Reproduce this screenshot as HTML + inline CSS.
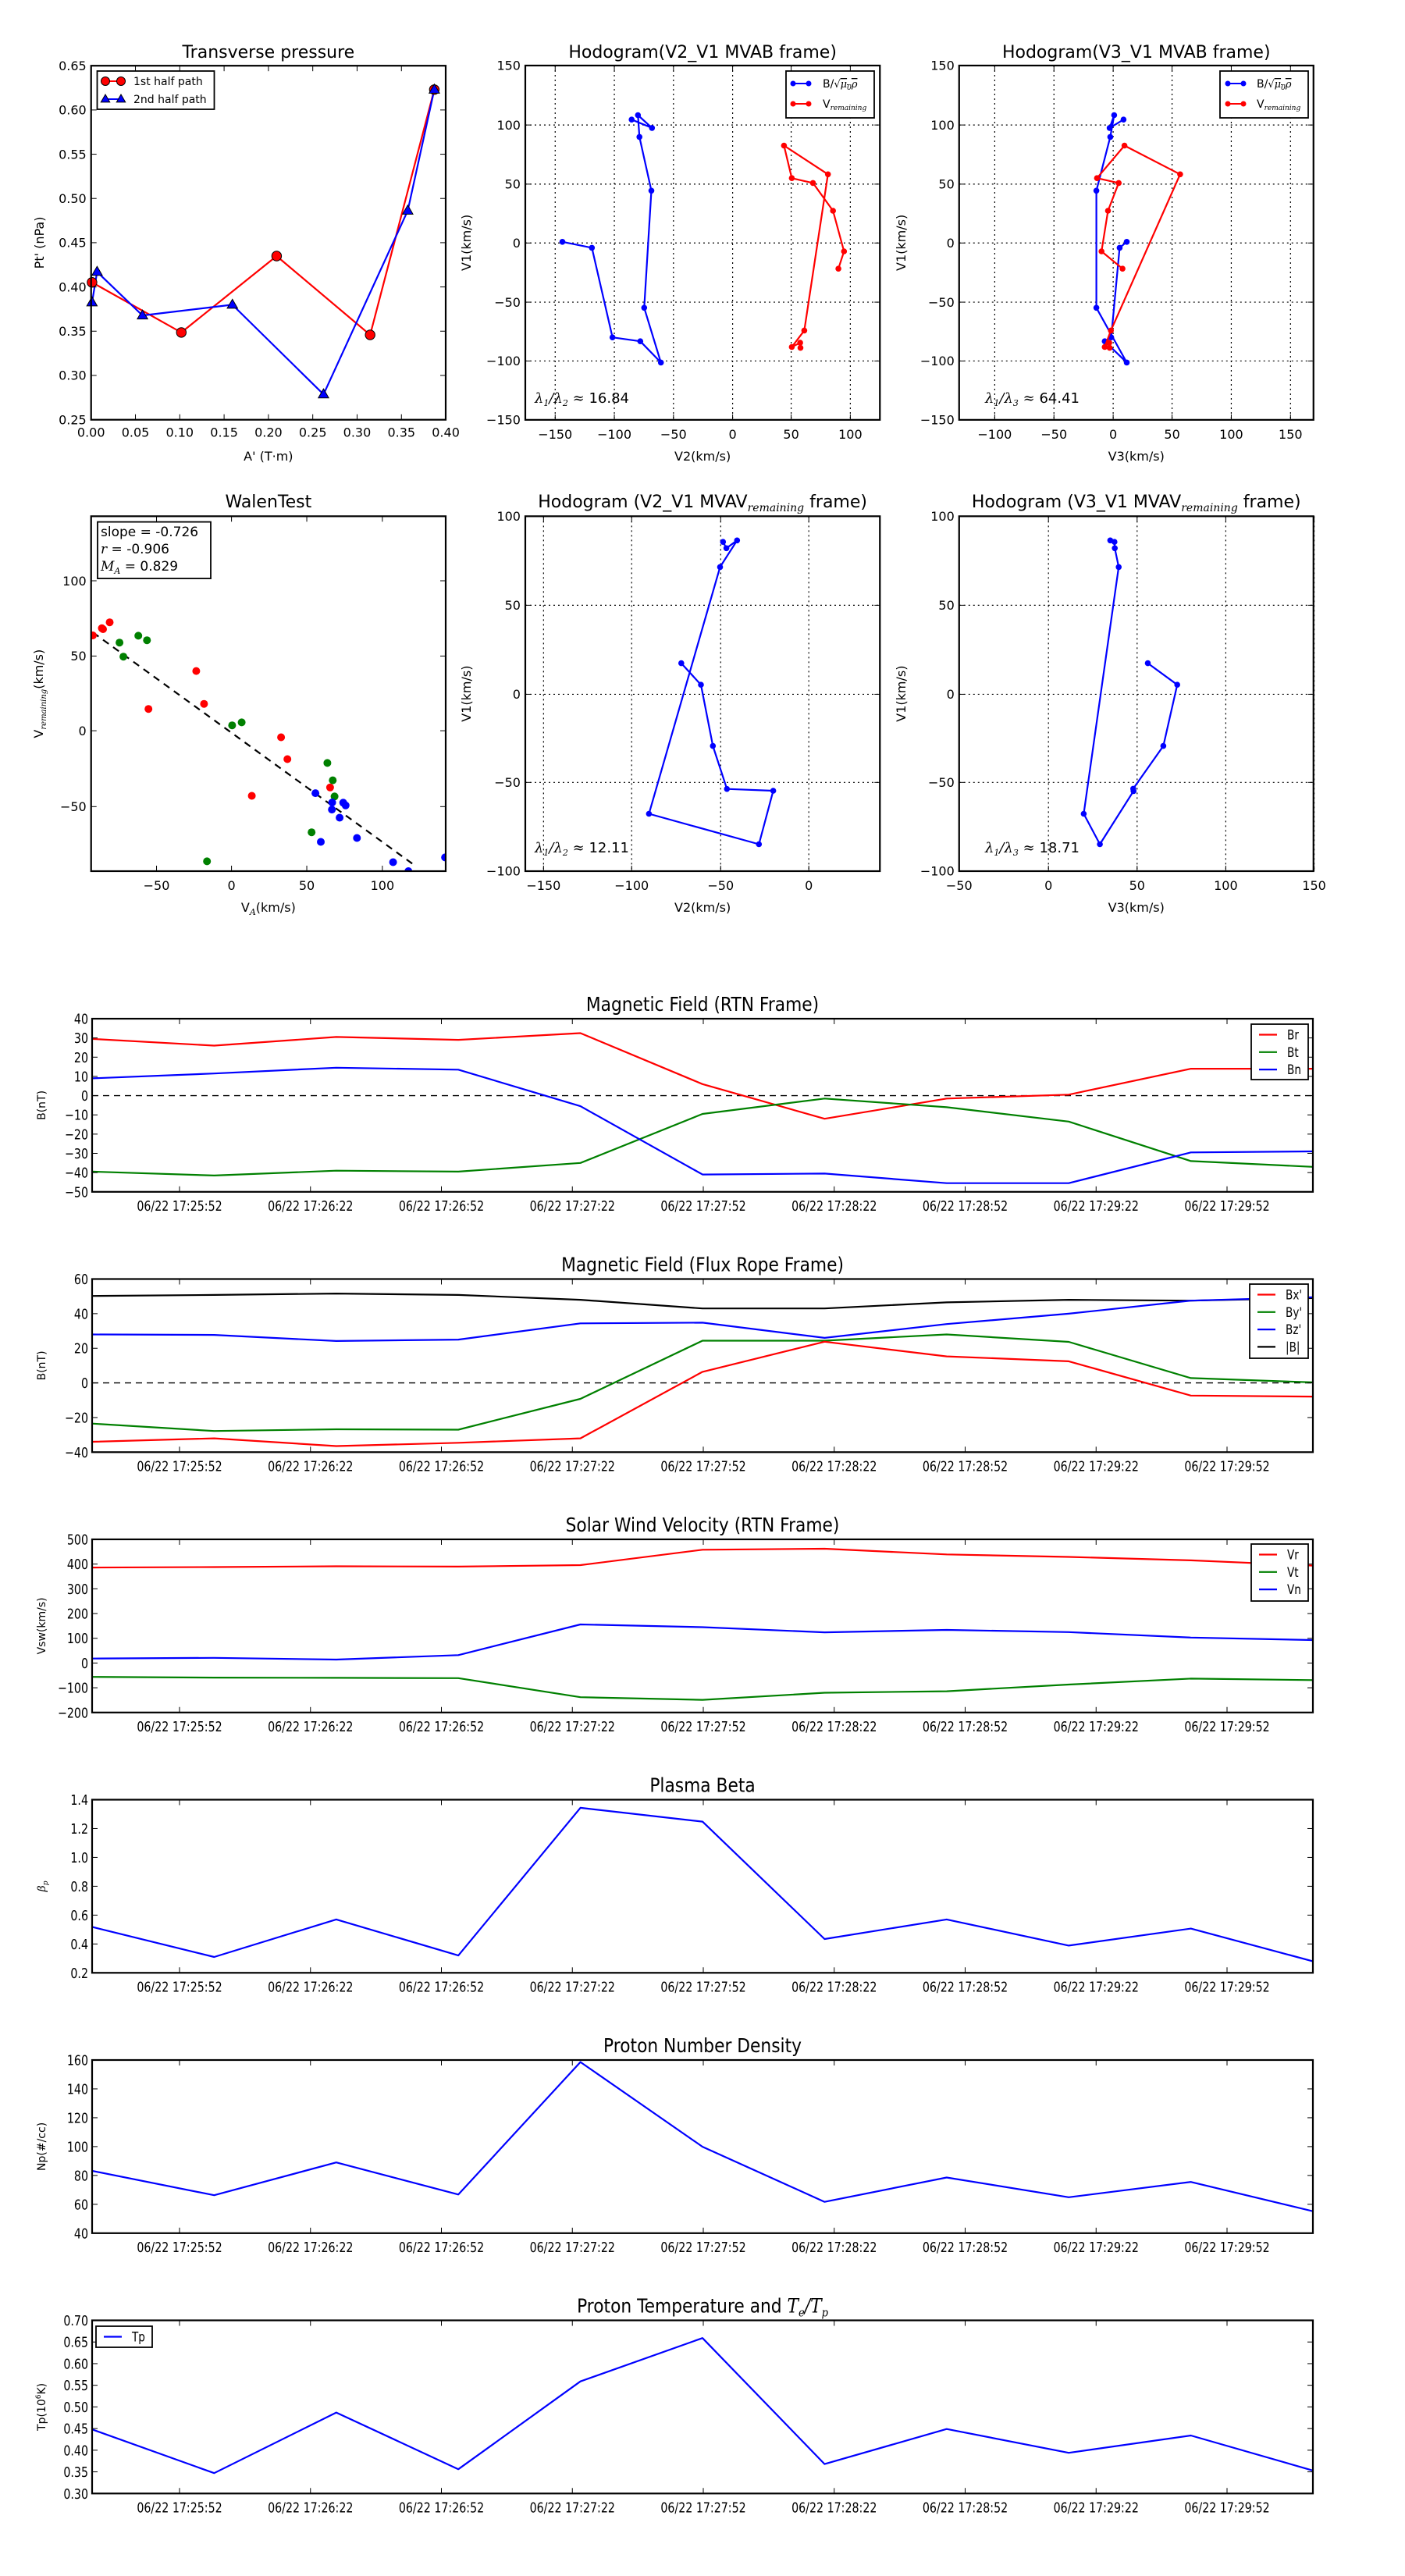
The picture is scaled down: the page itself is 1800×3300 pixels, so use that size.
<!DOCTYPE html>
<html><head><meta charset="utf-8">
<style>
html,body{margin:0;padding:0;background:#fff;}
svg{display:block;}
text{font-family:"DejaVu Sans","Liberation Sans",sans-serif;fill:#000;}
</style></head>
<body>
<svg id="s" xmlns="http://www.w3.org/2000/svg" width="1800" height="3300" viewBox="0 0 1800 3300"></svg>
<script>
var out='';var cid=0;
function L(x1,y1,x2,y2,c,w,da){out+='<line x1="'+x1+'" y1="'+y1+'" x2="'+x2+'" y2="'+y2+'" stroke="'+(c||'#000')+'" stroke-width="'+(w||1)+'"'+(da?' stroke-dasharray="'+da+'"':'')+'/>';}
function T(x,y,t,fs,anchor,extra){out+='<text x="'+x+'" y="'+y+'" font-size="'+fs+'" text-anchor="'+(anchor||'start')+'" '+(extra||'')+'>'+t+'</text>';}
function TS(x,y,t,fs,anchor,sx){out+='<text transform="translate('+x+' '+y+') scale('+sx+' 1)" x="0" y="0" font-size="'+fs+'" text-anchor="'+(anchor||'start')+'">'+t+'</text>';}
function PL(p,c,w,da){out+='<polyline fill="none" stroke="'+c+'" stroke-width="'+w+'" stroke-linejoin="round"'+(da?' stroke-dasharray="'+da+'"':'')+' points="'+p.map(function(q){return q[0].toFixed(1)+','+q[1].toFixed(1)}).join(' ')+'"/>';}
function C(x,y,r,f,s,sw){out+='<circle cx="'+x.toFixed(1)+'" cy="'+y.toFixed(1)+'" r="'+r+'" fill="'+f+'"'+(s?' stroke="'+s+'" stroke-width="'+(sw||1)+'"':'')+'/>';}
function TRI(x,y,r,f){out+='<polygon points="'+x+','+(y-r)+' '+(x-r*0.95)+','+(y+r*0.65)+' '+(x+r*0.95)+','+(y+r*0.65)+'" fill="'+f+'" stroke="#000" stroke-width="1"/>';}
function clipStart(x0,y0,x1,y1){cid++;out+='<clipPath id="c'+cid+'"><rect x="'+x0+'" y="'+y0+'" width="'+(x1-x0)+'" height="'+(y1-y0)+'"/></clipPath><g clip-path="url(#c'+cid+')">';}
function clipEnd(){out+='</g>';}
function Z(ox,oy,sx,sy){return function(p){return [ox+p[0]/sx,oy+p[1]/sy];};}
function frame(x0,y0,x1,y1,xt,yt,fs,xoff,grid,sx){
  sx=sx||1;
  xt.forEach(function(t){L(t[0],y1,t[0],y1-7);L(t[0],y0,t[0],y0+7);if(sx==1)T(t[0],y1+xoff,t[1],fs,'middle');else TS(t[0],y1+xoff,t[1],fs,'middle',sx);});
  yt.forEach(function(t){L(x0,t[0],x0+7,t[0]);L(x1,t[0],x1-7,t[0]);if(sx==1)T(x0-6,t[0]+fs*0.36,t[1],fs,'end');else TS(x0-5,t[0]+fs*0.36,t[1],fs,'end',sx);});
  out+='<rect x="'+x0+'" y="'+y0+'" width="'+(x1-x0)+'" height="'+(y1-y0)+'" fill="none" stroke="#000" stroke-width="2.2"/>';
}
var MS='font-family="DejaVu Serif" font-style="italic"';

/* ---------- Transverse pressure ---------- */
(function(){
 var f=Z(0,0,2.613,2.613);var x0=f([305,220])[0],y0=f([305,220])[1],x1=f([1492,1405])[0],y1=f([1492,1405])[1];
 var xt=[],yt=[];var xl=['0.00','0.05','0.10','0.15','0.20','0.25','0.30','0.35','0.40'];
 for(var k=0;k<9;k++)xt.push([f([305+148.4*k,0])[0],xl[k]]);
 var yl=['0.65','0.60','0.55','0.50','0.45','0.40','0.35','0.30','0.25'];
 for(k=0;k<9;k++)yt.push([f([0,220+148.1*k])[1],yl[k]]);
 var red=[[308,945],[607,1113],[926,857],[1239,1121],[1454,300]].map(f);
 var blue=[[308,1012],[325,910],[477,1056],[778,1020],[1083,1320],[1365,705],[1454,300]].map(f);
 clipStart(x0-10,y0,x1+10,y1+10);
 PL(red,'#f00',2.2);PL(blue,'#00f',2.2);
 red.forEach(function(p){C(p[0],p[1],6.2,'#f00','#000',1);});
 blue.forEach(function(p){TRI(p[0],p[1],7,'#00f');});
 clipEnd();
 frame(x0,y0,x1,y1,xt,yt,16,22,false);
 T((x0+x1)/2,74,'Transverse pressure',22,'middle');
 T((x0+x1)/2,590,"A' (T·m)",16,'middle');
 T(56,(y0+y1)/2,"Pt' (nPa)",16,'middle','transform="rotate(-90 56 '+((y0+y1)/2)+')"');
 out+='<rect x="124.5" y="91" width="150" height="49" fill="#fff" stroke="#000" stroke-width="1.8"/>';
 L(135,104,155,104,'#f00',2);C(135,104,5.5,'#f00','#000',1);C(155,104,5.5,'#f00','#000',1);
 L(135,127,155,127,'#00f',2);TRI(135,127,6,'#00f');TRI(155,127,6,'#00f');
 T(171,109,'1st half path',14);T(171,132,'2nd half path',14);
})();

/* ---------- Hodogram helper ---------- */
function hodo(o){
 var f=Z(o.ox,o.oy,o.sx,o.sy);
 var a=f([o.ax0,o.ay0]),b=f([o.ax1,o.ay1]);var x0=a[0],y0=a[1],x1=b[0],y1=b[1];
 var xt=o.xt.map(function(t){return [f([t[0],0])[0],t[1]];});
 var yt=o.yt.map(function(t){return [f([0,t[0]])[1],t[1]];});
 xt.forEach(function(t){L(t[0],y0,t[0],y1,'#000',1.2,'2,4');});yt.forEach(function(t){L(x0,t[0],x1,t[0],'#000',1.2,'2,4');});
 clipStart(x0,y0,x1,y1);
 o.series.forEach(function(s){var p=s.p.map(f);PL(p,s.c,2.2);p.forEach(function(q){C(q[0],q[1],3.8,s.c);});});
 clipEnd();
 frame(x0,y0,x1,y1,xt,yt,16,o.xoff,false);
 T((x0+x1)/2,o.ty,o.title,22,'middle');
 T((x0+x1)/2,o.xly,o.xlab,16,'middle');
 T(o.ylx,(y0+y1)/2,'V1(km/s)',16,'middle','transform="rotate(-90 '+o.ylx+' '+((y0+y1)/2)+')"');
 T(o.lx,o.ly,o.lam,18,'start');
 if(o.leg){var g=o.leg;
  out+='<rect x="'+g.x0+'" y="91" width="'+(g.x1-g.x0)+'" height="60" fill="#fff" stroke="#000" stroke-width="1.8"/>';
  L(g.sx,107,g.sx+20,107,'#00f',2);C(g.sx,107,3.5,'#00f');C(g.sx+20,107,3.5,'#00f');
  L(g.sx,133,g.sx+20,133,'#f00',2);C(g.sx,133,3.5,'#f00');C(g.sx+20,133,3.5,'#f00');
  T(g.tx,112,'B/<tspan '+MS+' font-size="13">√<tspan text-decoration="overline">μ<tspan font-size="9" dy="3">0</tspan><tspan dy="-3">ρ</tspan></tspan></tspan>',14);
  T(g.tx,138,'V<tspan '+MS+' font-size="9" dy="3">remaining</tspan>',14);
 }
}
var xlt2=[[343,'−150'],[541,'−100'],[739,'−50'],[937,'0'],[1133,'50'],[1331,'100']];
var ylt1=[[141,'150'],[340,'100'],[538,'50'],[735,'0'],[933,'−50'],[1130,'−100'],[1327,'−150']];
hodo({ox:580,oy:30,sx:2.613,sy:2.613,ax0:243,ay0:141,ax1:1430,ay1:1327,xt:xlt2,yt:ylt1,xoff:24,
 series:[{c:'#00f',p:[[367,731],[466,751],[535,1051],[628,1064],[697,1135],[641,952],[665,560],[625,380],[620,307],[667,350],[599,322]]},
         {c:'#f00',p:[[1291,821],[1310,763],[1273,627],[1206,534],[1135,518],[1109,409],[1256,505],[1177,1028],[1135,1083],[1163,1069],[1164,1086]]}],
 title:'Hodogram(V2_V1 MVAB frame)',ty:74,xlab:'V2(km/s)',xly:590,ylx:603,
 lam:'<tspan '+MS+'>λ<tspan font-size="11" dy="4">1</tspan><tspan dy="-4">/λ</tspan><tspan font-size="11" dy="4">2</tspan><tspan dy="-4"> ≈ </tspan></tspan>16.84',lx:685,ly:516,
 leg:{x0:1007,x1:1120,sx:1016,tx:1054}});
hodo({ox:1150,oy:30,sx:2.412,sy:2.613,ax0:190,ay0:141,ax1:1285,ay1:1327,
 xt:[[300,'−100'],[483,'−50'],[666,'0'],[848,'50'],[1031,'100'],[1214,'150']],yt:ylt1,xoff:24,
 series:[{c:'#00f',p:[[708,731],[686,751],[660,1051],[640,1064],[708,1135],[614,952],[614,560],[657,380],[669,307],[655,350],[698,322]]},
         {c:'#f00',p:[[695,821],[630,763],[650,627],[683,534],[616,518],[701,409],[873,505],[659,1028],[640,1083],[654,1069],[655,1086]]}],
 title:'Hodogram(V3_V1 MVAB frame)',ty:74,xlab:'V3(km/s)',xly:590,ylx:1160,
 lam:'<tspan '+MS+'>λ<tspan font-size="11" dy="4">1</tspan><tspan dy="-4">/λ</tspan><tspan font-size="11" dy="4">3</tspan><tspan dy="-4"> ≈ </tspan></tspan>64.41',lx:1262,ly:516,
 leg:{x0:1563,x1:1676,sx:1573,tx:1610}});
var ylt2=[[108,'100'],[406,'50'],[704,'0'],[999,'−50'],[1296,'−100']];
hodo({ox:580,oy:620,sx:2.613,sy:2.613,ax0:243,ay0:108,ax1:1430,ay1:1296,
 xt:[[304,'−150'],[599,'−100'],[897,'−50'],[1192,'0']],yt:ylt2,xoff:24,
 series:[{c:'#00f',p:[[765,600],[831,672],[871,877],[918,1021],[1073,1027],[1025,1206],[657,1104],[895,278],[952,189],[916,215],[905,194]]}],
 title:'Hodogram (V2_V1 MVAV<tspan '+MS+' font-size="14" dy="5">remaining</tspan><tspan dy="-5"> frame)</tspan>',ty:650,xlab:'V2(km/s)',xly:1168,ylx:603,
 lam:'<tspan '+MS+'>λ<tspan font-size="11" dy="4">1</tspan><tspan dy="-4">/λ</tspan><tspan font-size="11" dy="4">2</tspan><tspan dy="-4"> ≈ </tspan></tspan>12.11',lx:685,ly:1092});
hodo({ox:1150,oy:620,sx:2.412,sy:2.613,ax0:190,ay0:108,ax1:1285,ay1:1296,
 xt:[[190,'−50'],[466,'0'],[740,'50'],[1014,'100'],[1287,'150']],yt:ylt2,xoff:24,
 series:[{c:'#00f',p:[[773,600],[864,672],[821,877],[728,1020],[729,1028],[625,1206],[575,1104],[683,278],[671,215],[670,194],[657,189]]}],
 title:'Hodogram (V3_V1 MVAV<tspan '+MS+' font-size="14" dy="5">remaining</tspan><tspan dy="-5"> frame)</tspan>',ty:650,xlab:'V3(km/s)',xly:1168,ylx:1160,
 lam:'<tspan '+MS+'>λ<tspan font-size="11" dy="4">1</tspan><tspan dy="-4">/λ</tspan><tspan font-size="11" dy="4">3</tspan><tspan dy="-4"> ≈ </tspan></tspan>18.71',lx:1262,ly:1092});

/* ---------- Walen test ---------- */
(function(){
 var f=Z(0,620,2.613,2.613);var a=f([305,108]),b=f([1492,1296]);var x0=a[0],y0=a[1],x1=b[0],y1=b[1];
 var xt=[[524,'−50'],[775,'0'],[1027,'50'],[1280,'100']].map(function(t){return [f([t[0],0])[0],t[1]];});
 var yt=[[324,'100'],[576,'50'],[826,'0'],[1080,'−50']].map(function(t){return [f([0,t[0]])[1],t[1]];});
 clipStart(x0,y0,x1,y1);
 var d1=f([311,497]),d2=f([1390,1278]);L(d1[0],d1[1],d2[0],d2[1],'#000',2.2,'9,7');
 var R=[[311,507],[345,486],[367,463],[341,483],[657,626],[683,736],[497,753],[941,848],[962,921],[843,1044],[1105,1016]];
 var G=[[400,531],[413,578],[463,508],[492,523],[777,808],[809,798],[1096,934],[1114,992],[1120,1046],[1043,1166],[693,1263]];
 var B=[[1056,1035],[1112,1066],[1111,1090],[1149,1067],[1157,1076],[1137,1117],[1195,1185],[1074,1198],[1316,1266],[1367,1296],[1490,1250]];
 R.forEach(function(p){p=f(p);C(p[0],p[1],5,'#f00');});
 G.forEach(function(p){p=f(p);C(p[0],p[1],5,'#008000');});
 B.forEach(function(p){p=f(p);C(p[0],p[1],5,'#00f');});
 clipEnd();
 frame(x0,y0,x1,y1,xt,yt,16,24,false);
 T((x0+x1)/2,650,'WalenTest',22,'middle');
 T((x0+x1)/2,1168,'V<tspan '+MS+' font-size="11" dy="4">A</tspan><tspan dy="-4">(km/s)</tspan>',16,'middle');
 var cy=(y0+y1)/2;
 T(55,cy,'V<tspan '+MS+' font-size="10" dy="4">remaining</tspan><tspan dy="-4">(km/s)</tspan>',16,'middle','transform="rotate(-90 55 '+cy+')"');
 out+='<rect x="125" y="668.6" width="145" height="72.5" fill="#fff" stroke="#000" stroke-width="1.8"/>';
 T(129,687,'slope = -0.726',17);
 T(129,709,'<tspan '+MS+'>r</tspan> = -0.906',17);
 T(129,731,'<tspan '+MS+'>M<tspan font-size="11" dy="4">A</tspan></tspan><tspan dy="-4"> = 0.829</tspan>',17);
})();

/* ---------- Time series ---------- */
var TL=['06/22 17:25:52','06/22 17:26:22','06/22 17:26:52','06/22 17:27:22','06/22 17:27:52','06/22 17:28:22','06/22 17:28:52','06/22 17:29:22','06/22 17:29:52'];
var X0=118,X1=1682,H=221.8;
function ts(o){
 var y0=o.top,y1=o.top+H;
 var my=function(v){return y0+(o.ymax-v)/(o.ymax-o.ymin)*H;};
 var xt=TL.map(function(t,k){return [230+167.75*k,t];});
 var yt=o.yt.map(function(v,i){return [my(v),o.yl[i]];});
 clipStart(X0,y0,X1,y1);
 if(o.zero)L(X0,my(0),X1,my(0),'#000',1.4,'8,6');
 o.series.forEach(function(s){PL(s.v.map(function(v,i){return [X0+156.4*i,my(v)];}),s.c,2.2);});
 clipEnd();
 frame(X0,y0,X1,y1,xt,yt,18,24,false,0.79);
 TS(900,y0-10,o.title,25,'middle',0.87);
 var cy=(y0+y1)/2;
 T(58,cy,o.ylab,14,'middle','transform="rotate(-90 58 '+cy+')"');
 if(o.leg){var g=o.leg;
  out+='<rect x="'+g.x+'" y="'+g.y+'" width="'+g.w+'" height="'+g.h+'" fill="#fff" stroke="#000" stroke-width="1.8"/>';
  g.items.forEach(function(it,i){var yy=g.y+13.5+i*22.3;L(g.x+10,yy,g.x+33,yy,it[1],2.2);TS(g.x+46,yy+6,it[0],17,'start',0.8);});
 }
}
function rng(a,b,s){var r=[];for(var v=a;v>=b-1e-9;v-=s)r.push(Math.round(v*1000)/1000);return r;}
var yv;
yv=rng(40,-50,10);
ts({top:1305,ymax:40,ymin:-50,yt:yv,yl:yv.map(function(v){return v<0?'−'+(-v):''+v;}),zero:true,title:'Magnetic Field (RTN Frame)',ylab:'B(nT)',
 series:[{c:'#f00',v:[29.5,26,30.5,29,32.5,6,-12,-1.5,0.5,14,14]},{c:'#008000',v:[-39.5,-41.5,-39,-39.5,-35,-9.5,-1.5,-6,-13.5,-34,-37]},{c:'#00f',v:[9,11.5,14.5,13.5,-5.5,-41,-40.5,-45.5,-45.5,-29.5,-29]}],
 leg:{x:1603,y:1312,w:73,h:71,items:[['Br','#f00'],['Bt','#008000'],['Bn','#00f']]}});
yv=rng(60,-40,20);
ts({top:1638.5,ymax:60,ymin:-40,yt:yv,yl:yv.map(function(v){return v<0?'−'+(-v):''+v;}),zero:true,title:'Magnetic Field (Flux Rope Frame)',ylab:'B(nT)',
 series:[{c:'#000',v:[50.2,50.8,51.6,50.8,48,43,43,46.5,48,47.5,49]},{c:'#00f',v:[28,27.7,24.2,25,34.4,34.8,26,34,40,47.5,49.5]},{c:'#008000',v:[-23.5,-27.8,-26.8,-27,-9.2,24.4,24.4,28,23.7,2.8,0.3]},{c:'#f00',v:[-34,-32,-36.5,-34.6,-32,6.4,23.8,15.3,12.5,-7.3,-7.9]}],
 leg:{x:1601,y:1645,w:75,h:95,items:[["Bx'",'#f00'],["By'",'#008000'],["Bz'",'#00f'],['|B|','#000']]}});
yv=rng(500,-200,100);
ts({top:1972,ymax:500,ymin:-200,yt:yv,yl:yv.map(function(v){return v<0?'−'+(-v):''+v;}),title:'Solar Wind Velocity (RTN Frame)',ylab:'Vsw(km/s)',
 series:[{c:'#f00',v:[386,388,391,390,396,458,462,439,429,415,394]},{c:'#008000',v:[-56,-59,-60,-61,-138,-149,-120,-114,-87,-63,-69]},{c:'#00f',v:[18,21,14,32,156,145,124,134,125,103,93]}],
 leg:{x:1603,y:1978,w:73,h:73,items:[['Vr','#f00'],['Vt','#008000'],['Vn','#00f']]}});
yv=rng(1.4,0.2,0.2);
ts({top:2305.5,ymax:1.4,ymin:0.2,yt:yv,yl:yv.map(function(v){return v.toFixed(1);}),title:'Plasma Beta',ylab:'<tspan '+MS+'>β<tspan font-size="9" dy="3">p</tspan></tspan>',
 series:[{c:'#00f',v:[0.518,0.31,0.57,0.32,1.344,1.248,0.434,0.57,0.389,0.507,0.28]}]});
yv=rng(160,40,20);
ts({top:2639,ymax:160,ymin:40,yt:yv,yl:yv.map(function(v){return ''+v;}),title:'Proton Number Density',ylab:'Np(#/cc)',
 series:[{c:'#00f',v:[83.2,66.3,89,66.8,158.6,99.9,61.7,78.6,64.9,75.5,55.2]}]});
yv=rng(0.70,0.30,0.05);
ts({top:2972.5,ymax:0.70,ymin:0.30,yt:yv,yl:yv.map(function(v){return v.toFixed(2);}),title:'Proton Temperature and <tspan '+MS+'>T<tspan font-size="15" dy="5">e</tspan><tspan dy="-5">/T</tspan><tspan font-size="15" dy="5">p</tspan></tspan>',ylab:'Tp(10<tspan font-size="9" dy="-6">6</tspan><tspan dy="6">K)</tspan>',
 series:[{c:'#00f',v:[0.448,0.347,0.487,0.356,0.559,0.659,0.368,0.449,0.394,0.434,0.353]}],
 leg:{x:123,y:2980,w:72,h:27,items:[['Tp','#00f']]}});

document.getElementById('s').innerHTML=out;
</script>
</body></html>
